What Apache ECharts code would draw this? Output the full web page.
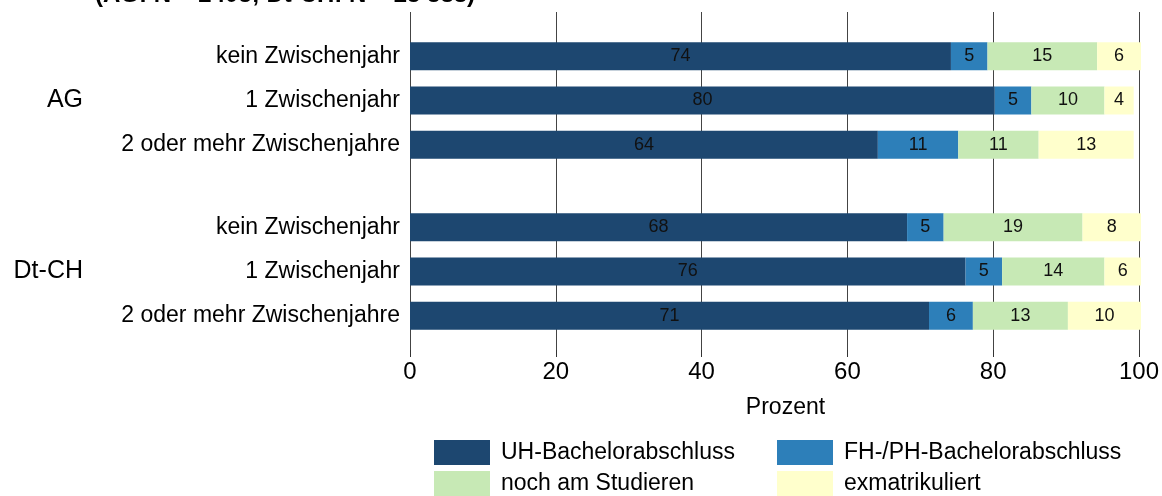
<!DOCTYPE html>
<html>
<head>
<meta charset="utf-8">
<script src="https://cdn.jsdelivr.net/npm/echarts@6/dist/echarts.min.js"></script>
<style>
  html, body { margin: 0; padding: 0; background: #fff; }
  #chart { width: 1162px; height: 496px; }
</style>
</head>
<body>
<div id="chart"></div>
<script>
// Study status by number of gap years, per region (percent)
const categories = ['kein Zwischenjahr', '1 Zwischenjahr', '2 oder mehr Zwischenjahre'];
const groups = ['AG', 'Dt-CH'];
const seriesNames = ['UH-Bachelorabschluss', 'FH-/PH-Bachelorabschluss', 'noch am Studieren', 'exmatrikuliert'];
const xTicks = [0, 20, 40, 60, 80, 100];
const titleText = '(AG: N = 2405; Dt-CH: N = 25 388)';

// AG
const agUH   = [74, 80, 64];
const agFH   = [5, 5, 11];
const agStud = [15, 10, 11];
const agExm  = [6, 4, 13];
// Dt-CH
const chUH   = [68, 76, 71];
const chFH   = [5, 5, 6];
const chStud = [19, 14, 13];
const chExm  = [8, 6, 10];

const colors = ['#1d4770', '#2d7fb9', '#c7e9b5', '#ffffcc'];
const FONT = 'Liberation Sans, Arial, sans-serif';

const groupData = [[agUH, agFH, agStud, agExm], [chUH, chFH, chStud, chExm]];

const chart = echarts.init(document.getElementById('chart'));

const grids = [
  { left: 410, right: 21, top: 12, bottom: 146 },      // frame carrying the percent axis
  { left: 410, right: 21, top: 34, height: 133 },      // AG
  { left: 410, right: 21, top: 205, height: 133 }      // Dt-CH
];

const xAxes = [
  {
    gridIndex: 0, type: 'value', min: xTicks[0], max: xTicks[xTicks.length - 1], interval: 20,
    name: 'Prozent', nameLocation: 'middle', nameGap: 46,
    nameTextStyle: { fontFamily: FONT, fontSize: 23, color: '#000', padding: [0, 0, 0, 22] },
    axisLine: { show: false },
    axisTick: { show: true, length: 7, lineStyle: { color: '#333', width: 1 } },
    axisLabel: { fontFamily: FONT, fontSize: 24, color: '#000', margin: 10 },
    splitLine: { show: true, lineStyle: { color: '#444', width: 1 } }
  },
  { gridIndex: 1, type: 'value', min: 0, max: 100, show: false },
  { gridIndex: 2, type: 'value', min: 0, max: 100, show: false }
];

const yAxes = [
  { gridIndex: 0, type: 'value', show: false, min: 0, max: 1 }
];
groups.forEach((g, i) => {
  yAxes.push({
    gridIndex: i + 1, type: 'category', data: categories, inverse: true,
    axisLine: { show: false }, axisTick: { show: false }, splitLine: { show: false },
    axisLabel: { fontFamily: FONT, fontSize: 23, color: '#000', margin: 10 }
  });
  yAxes.push({
    gridIndex: i + 1, type: 'category', data: ['', g, ''], inverse: true,
    position: 'left', offset: 327,
    axisLine: { show: false }, axisTick: { show: false }, splitLine: { show: false },
    axisLabel: { fontFamily: FONT, fontSize: 25, color: '#000', margin: 0 }
  });
});

const series = [];
groupData.forEach((sets, gi) => {
  sets.forEach((vals, si) => {
    series.push({
      name: seriesNames[si],
      type: 'bar',
      stack: 'g' + gi,
      xAxisIndex: gi + 1,
      yAxisIndex: 1 + gi * 2,
      barWidth: 28,
      data: vals,
      itemStyle: { color: colors[si] },
      label: {
        show: true, position: 'inside', color: '#111',
        fontFamily: FONT, fontSize: 18
      },
      emphasis: { disabled: true }
    });
  });
});

const legendPos = [
  { left: 434, top: 440 },
  { left: 777, top: 440 },
  { left: 434, top: 471 },
  { left: 777, top: 471 }
];
const legends = seriesNames.map((n, i) => ({
  data: [n],
  left: legendPos[i].left, top: legendPos[i].top,
  padding: 0, icon: 'rect', itemWidth: 56, itemHeight: 25,
  textStyle: { fontFamily: FONT, fontSize: 23, color: '#000', padding: [0, 0, 0, 6] }
}));

chart.setOption({
  animation: false,
  backgroundColor: '#fff',
  color: colors,
  grid: grids,
  xAxis: xAxes,
  yAxis: yAxes,
  legend: legends,
  series: series,
  graphic: [{
    type: 'text', left: 95, top: -17,
    style: { text: titleText, fontFamily: FONT, fontSize: 24, fontWeight: 'bold', fill: '#000' }
  }]
});
</script>
</body>
</html>
